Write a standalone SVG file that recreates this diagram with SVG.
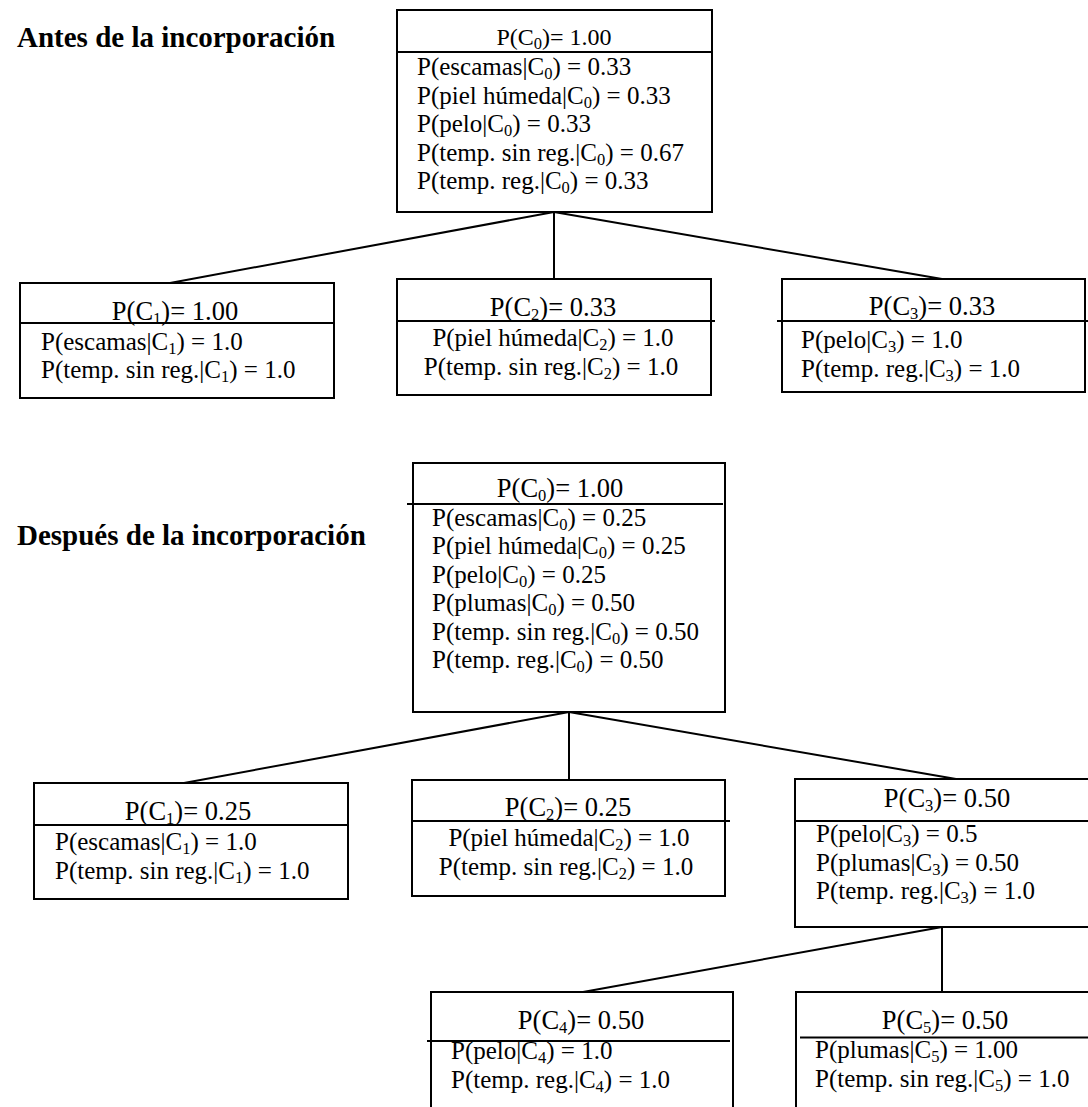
<svg xmlns="http://www.w3.org/2000/svg" width="1088" height="1107" viewBox="0 0 1088 1107" font-family="'Liberation Serif', 'DejaVu Serif', serif">
<style>
text{font-family:'Liberation Serif','DejaVu Serif',serif;fill:#000}
.t0{font-size:24px;text-anchor:middle}
.t{font-size:26.5px;text-anchor:middle}
.b{font-size:25px}
.bc{font-size:25px;text-anchor:middle}
.h{font-size:29px;font-weight:bold}
.s{font-size:16.5px}
.box{fill:#fff;stroke:#000;stroke-width:2}
.sep,.con{stroke:#000;stroke-width:2;fill:none}
</style>
<rect width="1088" height="1107" fill="#fff"/>

<text class="h" x="17" y="47">Antes de la incorporación</text>
<text class="h" x="17" y="545">Después de la incorporación</text>

<g id="connectors">
<line class="con" x1="554" y1="212" x2="170" y2="283"/>
<line class="con" x1="554" y1="212" x2="554" y2="279"/>
<line class="con" x1="554" y1="212" x2="942" y2="279"/>
<line class="con" x1="569" y1="712" x2="184" y2="783"/>
<line class="con" x1="569" y1="712" x2="569" y2="780"/>
<line class="con" x1="569" y1="712" x2="956" y2="779"/>
<line class="con" x1="942" y1="927" x2="583" y2="992"/>
<line class="con" x1="942" y1="927" x2="942" y2="992"/>
</g>

<g id="a-c0">
<rect class="box" x="397" y="10" width="315" height="202"/>
<line class="sep" x1="397" y1="52" x2="712" y2="52"/>
<text class="t0" x="554" y="45">P(C<tspan class="s" dy="4">0</tspan><tspan dy="-4">)= 1.00</tspan></text>
<text class="b" x="417" y="75">P(escamas|C<tspan class="s" dy="4">0</tspan><tspan dy="-4">) = 0.33</tspan></text>
<text class="b" x="417" y="103.5">P(piel húmeda|C<tspan class="s" dy="4">0</tspan><tspan dy="-4">) = 0.33</tspan></text>
<text class="b" x="417" y="132">P(pelo|C<tspan class="s" dy="4">0</tspan><tspan dy="-4">) = 0.33</tspan></text>
<text class="b" x="417" y="160.5">P(temp. sin reg.|C<tspan class="s" dy="4">0</tspan><tspan dy="-4">) = 0.67</tspan></text>
<text class="b" x="417" y="189">P(temp. reg.|C<tspan class="s" dy="4">0</tspan><tspan dy="-4">) = 0.33</tspan></text>
</g>

<g id="a-c1">
<rect class="box" x="20" y="283" width="314" height="115"/>
<line class="sep" x1="20" y1="323" x2="334" y2="323"/>
<text class="t" x="175" y="320">P(C<tspan class="s" dy="4">1</tspan><tspan dy="-4">)= 1.00</tspan></text>
<text class="b" x="41" y="350">P(escamas|C<tspan class="s" dy="4">1</tspan><tspan dy="-4">) = 1.0</tspan></text>
<text class="b" x="41" y="378">P(temp. sin reg.|C<tspan class="s" dy="4">1</tspan><tspan dy="-4">) = 1.0</tspan></text>
</g>

<g id="a-c2">
<rect class="box" x="397" y="279" width="314" height="116"/>
<line class="sep" x1="397" y1="321" x2="715" y2="321"/>
<text class="t" x="553" y="316">P(C<tspan class="s" dy="4">2</tspan><tspan dy="-4">)= 0.33</tspan></text>
<text class="bc" x="553" y="346">P(piel húmeda|C<tspan class="s" dy="4">2</tspan><tspan dy="-4">) = 1.0</tspan></text>
<text class="bc" x="551" y="375">P(temp. sin reg.|C<tspan class="s" dy="4">2</tspan><tspan dy="-4">) = 1.0</tspan></text>
</g>

<g id="a-c3">
<rect class="box" x="782" y="279" width="303" height="113"/>
<line class="sep" x1="777" y1="321" x2="1088" y2="321"/>
<text class="t" x="932" y="315">P(C<tspan class="s" dy="4">3</tspan><tspan dy="-4">)= 0.33</tspan></text>
<text class="b" x="801" y="348">P(pelo|C<tspan class="s" dy="4">3</tspan><tspan dy="-4">) = 1.0</tspan></text>
<text class="b" x="801" y="377">P(temp. reg.|C<tspan class="s" dy="4">3</tspan><tspan dy="-4">) = 1.0</tspan></text>
</g>

<g id="d-c0">
<rect class="box" x="413" y="463" width="312" height="249"/>
<line class="sep" x1="407" y1="504" x2="723" y2="504"/>
<text class="t" x="560" y="496.5">P(C<tspan class="s" dy="4">0</tspan><tspan dy="-4">)= 1.00</tspan></text>
<text class="b" x="432" y="525.5">P(escamas|C<tspan class="s" dy="4">0</tspan><tspan dy="-4">) = 0.25</tspan></text>
<text class="b" x="432" y="554">P(piel húmeda|C<tspan class="s" dy="4">0</tspan><tspan dy="-4">) = 0.25</tspan></text>
<text class="b" x="432" y="582.5">P(pelo|C<tspan class="s" dy="4">0</tspan><tspan dy="-4">) = 0.25</tspan></text>
<text class="b" x="432" y="611">P(plumas|C<tspan class="s" dy="4">0</tspan><tspan dy="-4">) = 0.50</tspan></text>
<text class="b" x="432" y="639.5">P(temp. sin reg.|C<tspan class="s" dy="4">0</tspan><tspan dy="-4">) = 0.50</tspan></text>
<text class="b" x="432" y="668">P(temp. reg.|C<tspan class="s" dy="4">0</tspan><tspan dy="-4">) = 0.50</tspan></text>
</g>

<g id="d-c1">
<rect class="box" x="34" y="783" width="314" height="116"/>
<line class="sep" x1="34" y1="825" x2="348" y2="825"/>
<text class="t" x="188" y="820">P(C<tspan class="s" dy="4">1</tspan><tspan dy="-4">)= 0.25</tspan></text>
<text class="b" x="55" y="850">P(escamas|C<tspan class="s" dy="4">1</tspan><tspan dy="-4">) = 1.0</tspan></text>
<text class="b" x="55" y="878.5">P(temp. sin reg.|C<tspan class="s" dy="4">1</tspan><tspan dy="-4">) = 1.0</tspan></text>
</g>

<g id="d-c2">
<rect class="box" x="412" y="780" width="313" height="116"/>
<line class="sep" x1="412" y1="821" x2="730" y2="821"/>
<text class="t" x="568" y="816">P(C<tspan class="s" dy="4">2</tspan><tspan dy="-4">)= 0.25</tspan></text>
<text class="bc" x="569" y="846">P(piel húmeda|C<tspan class="s" dy="4">2</tspan><tspan dy="-4">) = 1.0</tspan></text>
<text class="bc" x="566" y="875">P(temp. sin reg.|C<tspan class="s" dy="4">2</tspan><tspan dy="-4">) = 1.0</tspan></text>
</g>

<g id="d-c3">
<rect class="box" x="795" y="779" width="305" height="148"/>
<line class="sep" x1="795" y1="821" x2="1100" y2="821"/>
<text class="t" x="947" y="807">P(C<tspan class="s" dy="4">3</tspan><tspan dy="-4">)= 0.50</tspan></text>
<text class="b" x="816" y="842">P(pelo|C<tspan class="s" dy="4">3</tspan><tspan dy="-4">) = 0.5</tspan></text>
<text class="b" x="816" y="870.5">P(plumas|C<tspan class="s" dy="4">3</tspan><tspan dy="-4">) = 0.50</tspan></text>
<text class="b" x="816" y="899">P(temp. reg.|C<tspan class="s" dy="4">3</tspan><tspan dy="-4">) = 1.0</tspan></text>
</g>

<g id="d-c4">
<rect class="box" x="431" y="992" width="302" height="130"/>
<line class="sep" x1="427" y1="1041" x2="730" y2="1041"/>
<text class="t" x="581" y="1029">P(C<tspan class="s" dy="4">4</tspan><tspan dy="-4">)= 0.50</tspan></text>
<text class="b" x="451" y="1059">P(pelo|C<tspan class="s" dy="4">4</tspan><tspan dy="-4">) = 1.0</tspan></text>
<text class="b" x="451" y="1088">P(temp. reg.|C<tspan class="s" dy="4">4</tspan><tspan dy="-4">) = 1.0</tspan></text>
</g>

<g id="d-c5">
<rect class="box" x="796" y="992" width="310" height="130"/>
<line class="sep" x1="800" y1="1037.5" x2="1100" y2="1037.5"/>
<text class="t" x="945" y="1029">P(C<tspan class="s" dy="4">5</tspan><tspan dy="-4">)= 0.50</tspan></text>
<text class="b" x="815" y="1058">P(plumas|C<tspan class="s" dy="4">5</tspan><tspan dy="-4">) = 1.00</tspan></text>
<text class="b" x="815" y="1087">P(temp. sin reg.|C<tspan class="s" dy="4">5</tspan><tspan dy="-4">) = 1.0</tspan></text>
</g>
</svg>
